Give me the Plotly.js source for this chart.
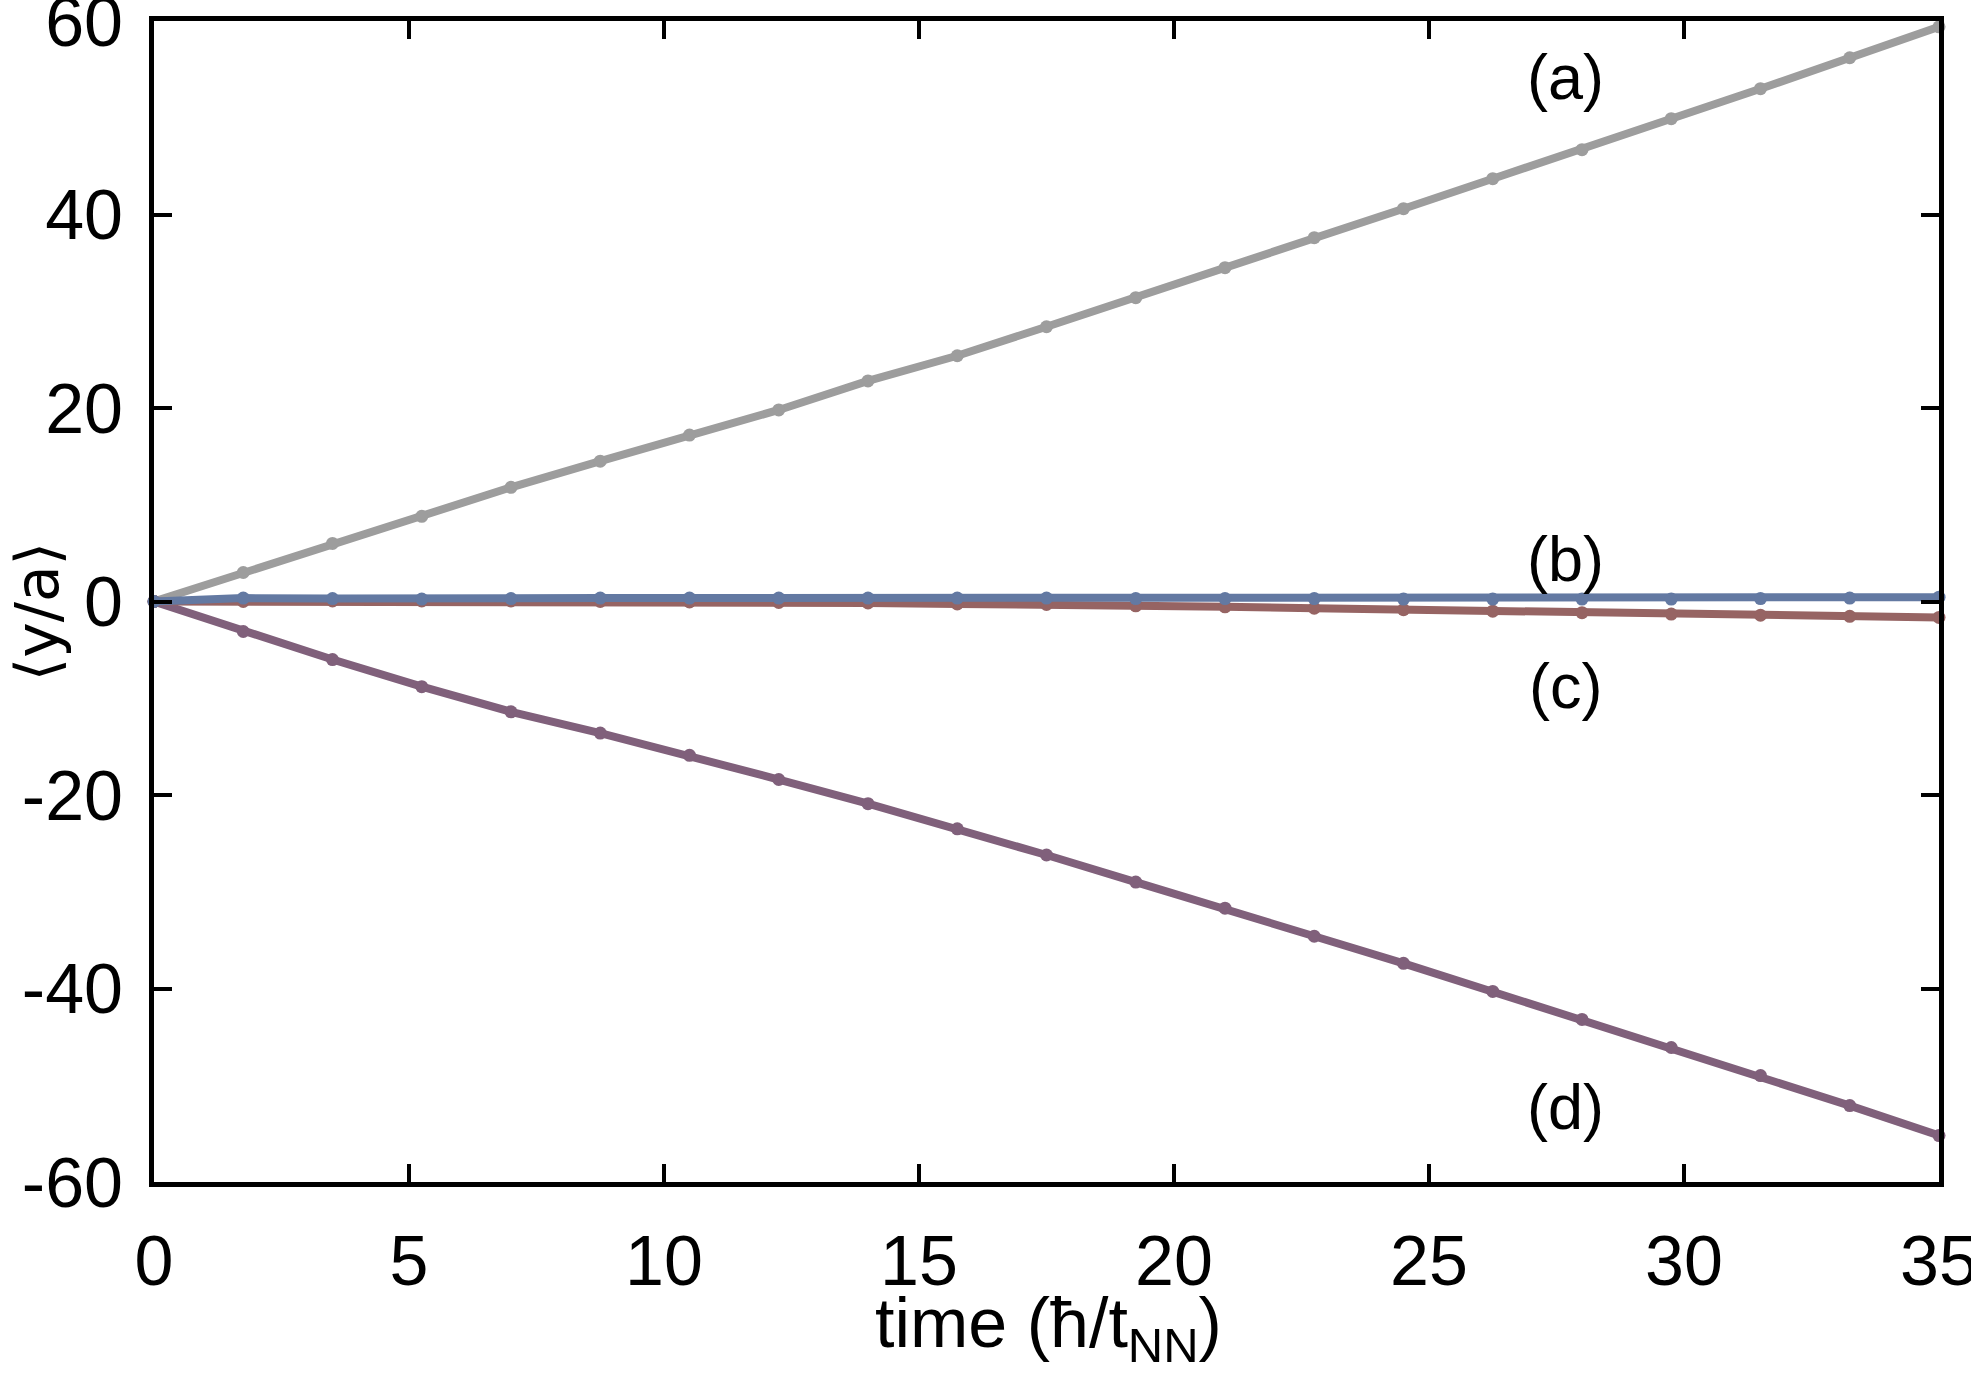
<!DOCTYPE html>
<html>
<head>
<meta charset="utf-8">
<script src="https://cdn.plot.ly/plotly-3.0.1.min.js"></script>
<style>html,body{margin:0;padding:0;background:#fff;}#chart{width:1971px;height:1382px;}</style>
</head>
<body>
<div id="chart"></div>
<script>
// time axis (ħ/t_NN)
const timeValues = [0, 1.75, 3.5, 5.25, 7, 8.75, 10.5, 12.25, 14, 15.75, 17.5, 19.25, 21, 22.75, 24.5, 26.25, 28, 29.75, 31.5, 33.25, 35];
// <y/a> for each case
const seriesA = [0, 3.0, 6.0, 8.8, 11.8, 14.5, 17.2, 19.8, 22.8, 25.4, 28.4, 31.4, 34.5, 37.6, 40.6, 43.7, 46.7, 49.9, 53.0, 56.2, 59.4];
const seriesB = [0, 0.35, 0.3, 0.25, 0.3, 0.35, 0.35, 0.35, 0.35, 0.35, 0.35, 0.3, 0.3, 0.3, 0.25, 0.25, 0.25, 0.25, 0.3, 0.35, 0.45];
const seriesC = [0, 0.0, 0.05, 0.05, 0.05, 0.0, -0.05, -0.1, -0.15, -0.25, -0.3, -0.45, -0.55, -0.7, -0.85, -1.0, -1.15, -1.3, -1.42, -1.53, -1.65];
const seriesD = [0, -3.1, -6.0, -8.8, -11.4, -13.6, -15.9, -18.4, -20.9, -23.5, -26.2, -29.0, -31.7, -34.6, -37.4, -40.3, -43.2, -46.1, -49.0, -52.1, -55.2];
const seriesLabels = ["(a)", "(b)", "(c)", "(d)"];
const labelX = [27.67, 27.67, 27.67, 27.67];
const labelY = [54.2, 4.4, -8.7, -52.2];
const xTicks = [0, 5, 10, 15, 20, 25, 30, 35];
const yTicks = [-60, -40, -20, 0, 20, 40, 60];

const colors = {a: "#9d9d9d", b: "#6379a2", c: "#966463", d: "#80607b"};

function tr(y, color) {
  return {
    x: timeValues, y: y, type: "scatter", mode: "lines+markers",
    line: {color: color, width: 8},
    marker: {color: color, size: 13},
    cliponaxis: false, showlegend: false, hoverinfo: "skip"
  };
}

const data = [tr(seriesA, colors.a), tr(seriesD, colors.d), tr(seriesC, colors.c), tr(seriesB, colors.b)];

const FONT = "Liberation Sans, Arial, Helvetica, sans-serif";
const annotations = seriesLabels.map((t, i) => ({
  x: labelX[i], y: labelY[i], xref: "x", yref: "y", text: t, showarrow: false,
  font: {family: FONT, size: 63, color: "#000"}, xanchor: "center", yanchor: "middle"
}));
annotations.push({
  xref: "paper", yref: "paper", x: (1048 - 154) / 1785, y: -(1328 - 1182) / 1161.5,
  text: "time (ħ/t<sub>NN</sub>)", showarrow: false,
  font: {family: FONT, size: 70, color: "#000"}, xanchor: "center", yanchor: "middle"
});
annotations.push({
  xref: "paper", yref: "paper", x: -(154 - 37) / 1785, y: (1182 - 612) / 1161.5,
  text: "⟨y/a⟩", showarrow: false, textangle: -90,
  font: {family: "DejaVu Sans, Liberation Sans, sans-serif", size: 60, color: "#000"}, xanchor: "center", yanchor: "middle"
});

const layout = {
  width: 1971, height: 1382,
  margin: {l: 154, r: 32, t: 20.5, b: 200, pad: 0},
  paper_bgcolor: "#fff", plot_bgcolor: "#fff",
  font: {family: FONT, size: 70, color: "#000"},
  xaxis: {
    range: [0, 35], tickvals: xTicks, ticktext: xTicks.map(String),
    ticks: "inside", ticklen: 18, tickwidth: 4, tickcolor: "#000",
    showline: true, linewidth: 5, linecolor: "#000", mirror: "ticks",
    showgrid: false, zeroline: false, ticklabelstandoff: 14,
    ticklabeloverflow: "allow",
    tickfont: {family: FONT, size: 70, color: "#000"}
  },
  yaxis: {
    range: [-60, 60], tickvals: yTicks, ticktext: yTicks.map(String),
    ticks: "inside", ticklen: 18, tickwidth: 4, tickcolor: "#000",
    showline: true, linewidth: 5, linecolor: "#000", mirror: "ticks",
    showgrid: false, zeroline: false, ticklabelstandoff: 12,
    ticklabeloverflow: "allow",
    tickfont: {family: FONT, size: 70, color: "#000"}
  },
  annotations: annotations
};

Plotly.newPlot("chart", data, layout, {staticPlot: true, displayModeBar: false});
</script>
</body>
</html>
